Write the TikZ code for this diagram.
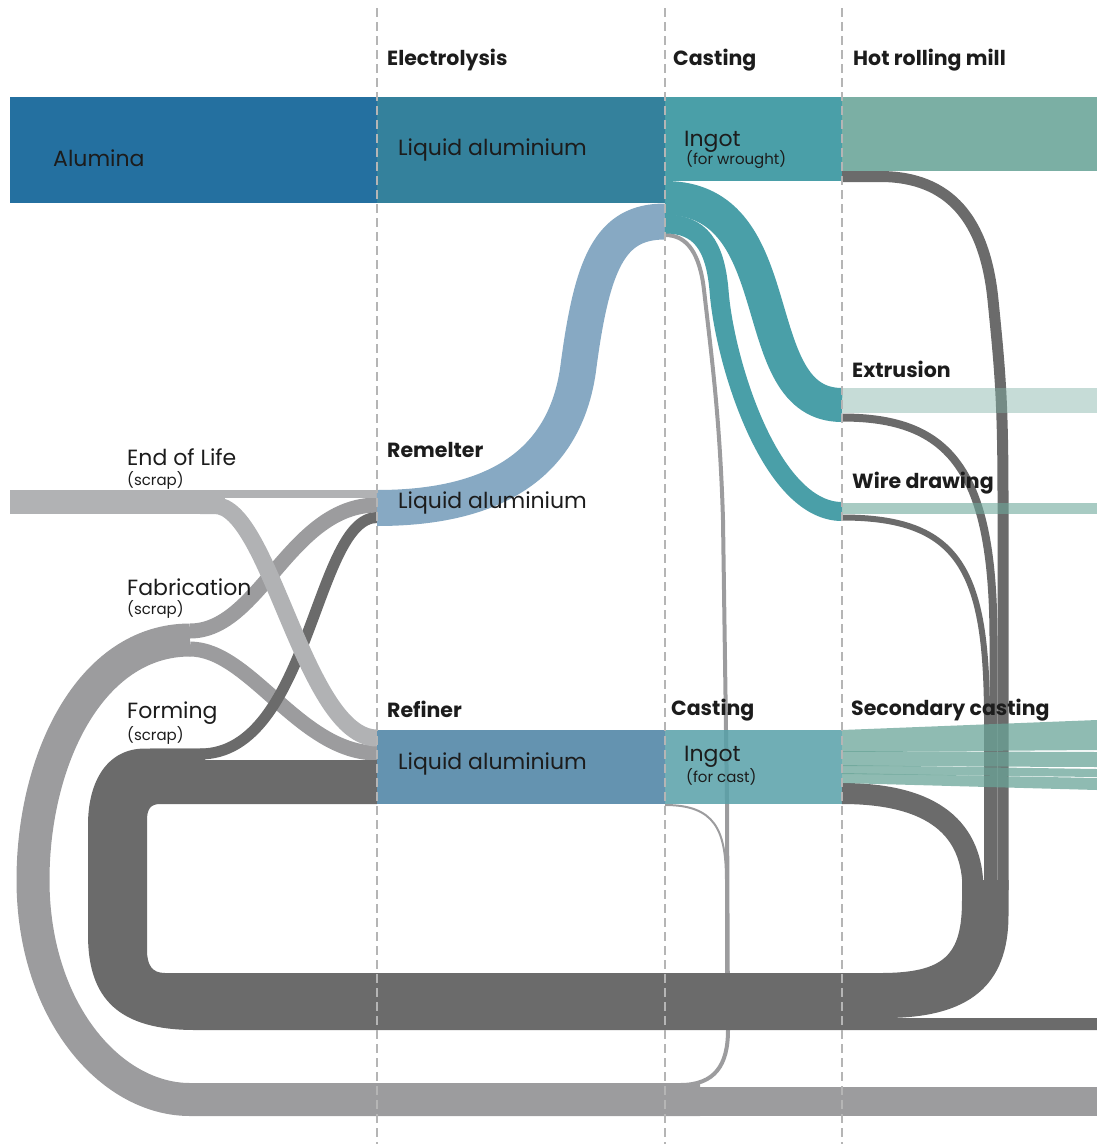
\documentclass[tikz,border=0pt]{standalone}
\usepackage{fontspec}
\setmainfont{Poppins}
\begin{document}
\begin{tikzpicture}[x=1pt,y=-1pt,line join=round]
% palette
\definecolor{alumina}{HTML}{2470A0}
\definecolor{elecliq}{HTML}{34819C}
\definecolor{ingotw}{HTML}{4A9FA8}
\definecolor{hotroll}{HTML}{7BAFA4}
\definecolor{remelt}{HTML}{87A9C3}
\definecolor{refine}{HTML}{6493B0}
\definecolor{ingotc}{RGB}{87,160,168}
\definecolor{fanc}{RGB}{106,164,152}
\definecolor{extrc}{RGB}{129,178,166}
\definecolor{wirec}{RGB}{110,168,155}
\definecolor{darkg}{HTML}{6B6B6B}
\definecolor{fabg}{HTML}{9C9C9E}
\definecolor{eolg}{HTML}{B1B2B4}
\definecolor{guidec}{HTML}{B5B5B5}
\definecolor{ink}{HTML}{1C1C1C}
\tikzset{
  flow/.style={line cap=butt},
  lbl/.style={anchor=base west,inner sep=0pt,text=ink,font=\fontsize{22}{24}\selectfont},
  hdr/.style={anchor=base west,inner sep=0pt,text=ink,font=\bfseries\fontsize{20.5}{22}\selectfont},
  sub/.style={anchor=base west,inner sep=0pt,text=ink,font=\fontsize{15}{16}\selectfont},
  guide/.style={draw=guidec,line width=1.2pt,dash pattern=on 9pt off 5pt},
}
\useasboundingbox (0,0) rectangle (1097,1144);

% ---- fabrication scrap loop (light grey) ----
\draw[flow,fabg,line width=29pt] (690,1101.5) -- (1097,1101.5);
\draw[flow,fabg,line width=33pt] (700,1099.5) -- (190,1099.5)
  .. controls (110,1099.5) and (33,1010) .. (33,880)
  .. controls (33,760) and (90,640) .. (190,640);
\draw[flow,fabg,line width=15pt] (190,631) .. controls (260,631) and (290,505) .. (377,505);
\draw[flow,fabg,line width=15pt] (190,649) .. controls (250,649) and (300,753) .. (377,753);

% thin scrap lines from the casting stations
\draw[flow,fabg,line width=4pt] (665,235) .. controls (688,235) and (700,255) .. (704,290)
  .. controls (712,360) and (720,420) .. (723,520) -- (727,800) -- (728,1030)
  .. controls (728,1065) and (715,1085) .. (680,1085) -- (600,1085);
\draw[flow,fabg,line width=2pt] (665,805) .. controls (715,805) and (726,830) .. (726,880) -- (726,990);

% ---- process scrap loop (dark grey) ----
\fill[darkg] (377,760) -- (205,760) -- (205,748.5) -- (145,748.5)
  .. controls (108,748.5) and (88,780) .. (88,825) -- (88,935)
  .. controls (88,1000) and (120,1030) .. (195,1030) -- (1097,1030) -- (1097,1018) -- (885,1018)
  .. controls (970,1018) and (1008.5,985) .. (1008.5,915) -- (1008.5,880) -- (962,880) -- (962,900)
  .. controls (962,955) and (945,973) .. (880,973) -- (165,973)
  .. controls (152,973) and (147,965) .. (147,950) -- (147,820)
  .. controls (147,810) and (150,804) .. (160,804) -- (377,804) -- cycle;
\draw[flow,darkg,line width=11pt] (150,754) -- (200,754) .. controls (310,754) and (315,517.5) .. (377,517.5);

% ---- end-of-life scrap ----
\fill[eolg] (10,490) rectangle (225,514);
\fill[eolg] (200,490) rectangle (377,497.5);
\draw[flow,eolg,line width=17pt] (200,505.5) -- (215,505.5) .. controls (270,505.5) and (305,738) .. (377,738);

% ---- remelter to casting ----
\draw[flow,remelt,line width=36pt] (377,508) .. controls (500,508) and (565,460) .. (578,370)
  .. controls (592,262) and (610,221.5) .. (665,221.5);

% ---- main stations ----
\fill[alumina] (10,97) rectangle (377,203);
\fill[elecliq] (377,97) rectangle (665,203);
\fill[ingotw] (665,97) rectangle (842,181);
\fill[hotroll] (842,97) rectangle (1097,171);
\fill[refine] (377,730) rectangle (665,804);
\fill[ingotc,fill opacity=0.85] (665,730) rectangle (842,804);

% ---- wrought ingot to extrusion and wire drawing ----
\draw[flow,ingotw,line width=34pt] (665,198) .. controls (795,198) and (742,405) .. (842,405);
\draw[flow,ingotw,line width=19pt] (665,224) .. controls (700,224) and (715,245) .. (719,290)
  .. controls (724,360) and (770,511.5) .. (842,511.5);

% ---- scrap returning from the mills ----
\draw[flow,darkg,line width=11pt] (842,176.5) -- (880,176.5) .. controls (950,176.5) and (985,220) .. (993,300)
  .. controls (1000,370) and (1003,400) .. (1003,500) -- (1003,890);
\draw[flow,darkg,line width=8pt] (842,417.5) .. controls (950,417.5) and (993.5,470) .. (993.5,640) -- (993.5,890);
\draw[flow,darkg,line width=6pt] (842,517.5) .. controls (960,517.5) and (987,570) .. (987,720) -- (987,890);
\draw[flow,darkg,line width=21pt] (842,793.5) .. controls (935,793.5) and (973,830) .. (973,890);

% ---- products leaving the mills ----
\fill[extrc,fill opacity=0.45] (842,388) rectangle (1097,413);
\fill[wirec,fill opacity=0.6] (842,503) rectangle (1097,514);
\fill[fanc,fill opacity=0.75] (842,730) -- (1097,720) -- (1097,750) -- (842,752) -- cycle;
\fill[fanc,fill opacity=0.75] (842,751) -- (1097,752) -- (1097,767) -- (842,766) -- cycle;
\fill[fanc,fill opacity=0.75] (842,765) -- (1097,769) -- (1097,777) -- (842,774) -- cycle;
\fill[fanc,fill opacity=0.75] (842,773) -- (1097,778) -- (1097,790) -- (842,783) -- cycle;

% ---- stage guides ----
\draw[guide] (377,8) -- (377,1144);
\draw[guide] (665,8) -- (665,1144);
\draw[guide] (842,8) -- (842,1144);

% ---- labels ----
\node[hdr] (hElec) at (387,65) {Electrolysis};
\node[hdr] (hCast) at (673,65) {Casting};
\node[hdr] (hHot) at (853,65) {Hot rolling mill};
\node[lbl] (tAlu) at (53,166) {Alumina};
\node[lbl] (tLiq1) at (398,155) {Liquid aluminium};
\node[lbl] (tIngW) at (684,146) {Ingot};
\node[sub] (sIngW) at (686,164) {(for wrought)};
\node[hdr] (hExt) at (852,377) {Extrusion};
\node[hdr] (hWire) at (852,488) {Wire drawing};
\node[lbl] (tEol) at (127,465) {End of Life};
\node[sub] (sEol) at (127,485) {(scrap)};
\node[hdr] (hRem) at (387,457) {Remelter};
\node[lbl] (tLiq2) at (398,508) {Liquid aluminium};
\node[lbl] (tFab) at (127,595) {Fabrication};
\node[sub] (sFab) at (127,614) {(scrap)};
\node[lbl] (tForm) at (127,718) {Forming};
\node[sub] (sForm) at (127,740) {(scrap)};
\node[hdr] (hRef) at (387,717) {Refiner};
\node[lbl] (tLiq3) at (398,769) {Liquid aluminium};
\node[hdr] (hCast2) at (671,715) {Casting};
\node[lbl] (tIngC) at (684,761) {Ingot};
\node[sub] (sIngC) at (686,782) {(for cast)};
\node[hdr] (hSec) at (851,715) {Secondary casting};
\end{tikzpicture}
\end{document}
